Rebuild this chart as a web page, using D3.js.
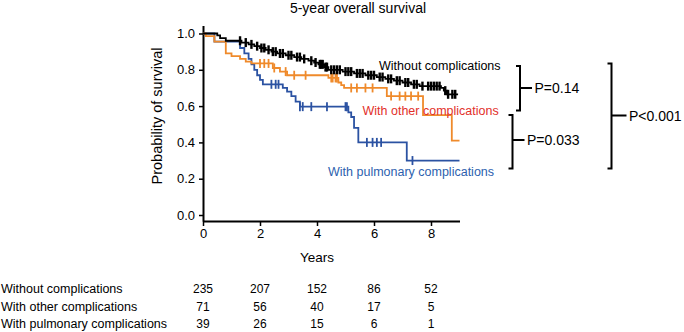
<!DOCTYPE html>
<html>
<head>
<meta charset="utf-8">
<script src="https://cdn.jsdelivr.net/npm/d3@7"></script>
<style>
  body { margin: 0; background: #fff; }
  svg { display: block; font-family: Helvetica, Arial, "Liberation Sans", sans-serif; }
</style>
</head>
<body>
<svg id="chart" width="684" height="332"></svg>
<script>
// groups and at-risk table
const groups = ["Without complications", "With other complications", "With pulmonary complications"];
const riskYears = [0, 2, 4, 6, 8];
const atRiskWithout = [235, 207, 152, 86, 52];
const atRiskOther = [71, 56, 40, 17, 5];
const atRiskPulmonary = [39, 26, 15, 6, 1];

// survival steps: [time in years, survival from that time on]
const stepsWithout = [
  [0, 1.0], [0.5, 0.99], [0.6, 0.975], [0.8, 0.96], [1.35, 0.95], [1.6, 0.94],
  [1.8, 0.93], [2.0, 0.92], [2.2, 0.91], [2.4, 0.9], [2.6, 0.89], [2.9, 0.88],
  [3.2, 0.87], [3.45, 0.86], [3.7, 0.85], [3.9, 0.84], [4.05, 0.83], [4.25, 0.815],
  [4.4, 0.8], [4.9, 0.79], [5.3, 0.78], [5.7, 0.77], [6.1, 0.76], [6.4, 0.75],
  [6.7, 0.74], [7.0, 0.73], [7.3, 0.72], [7.6, 0.71], [8.35, 0.7], [8.45, 0.685],
  [8.55, 0.665]
];
const censorWithout = [
  1.3, 1.5, 1.7, 1.9, 2.05, 2.15, 2.3, 2.45, 2.55, 2.7, 2.8, 3.0, 3.1, 3.3, 3.4,
  3.55, 3.8, 3.95, 4.1, 4.15, 4.2, 4.3, 4.35, 4.5, 4.6, 4.7, 4.8, 5.0, 5.1, 5.2,
  5.4, 5.5, 5.6, 5.8, 5.9, 6.0, 6.2, 6.3, 6.5, 6.6, 6.8, 6.9, 7.1, 7.2, 7.4, 7.5,
  7.7, 7.9, 8.0, 8.1, 8.2, 8.3, 8.5, 8.6, 8.75, 8.85
];
const endWithout = 8.95;

const stepsOther = [
  [0, 1.0], [0.1, 0.985], [0.4, 0.955], [0.8, 0.89], [1.0, 0.875], [1.3, 0.86],
  [1.5, 0.845], [1.7, 0.835], [2.45, 0.81], [2.7, 0.79], [2.95, 0.77], [4.4, 0.755],
  [4.75, 0.73], [4.85, 0.715], [4.95, 0.7], [6.45, 0.655], [7.72, 0.55], [8.73, 0.41]
];
const censorOther = [
  2.0, 2.15, 2.3, 2.5, 2.9, 3.2, 3.6, 4.5, 4.55, 4.65, 4.7, 5.2, 5.4, 5.7, 5.95,
  6.6, 6.9, 7.1, 7.3, 7.55
];
const endOther = 9.0;

const stepsPulmonary = [
  [0, 1.0], [0.4, 0.955], [1.3, 0.92], [1.45, 0.89], [1.6, 0.86], [1.7, 0.83],
  [1.8, 0.8], [1.9, 0.77], [2.0, 0.745], [2.1, 0.72], [2.8, 0.7], [2.95, 0.68],
  [3.1, 0.655], [3.25, 0.625], [3.4, 0.597], [5.1, 0.565], [5.2, 0.54], [5.3, 0.48],
  [5.45, 0.4], [7.15, 0.3]
];
const censorPulmonary = [2.4, 2.55, 2.65, 3.4, 3.5, 3.8, 4.35, 5.0, 5.05, 5.75, 5.95, 6.1, 6.25, 7.35];
const endPulmonary = 9.0;

const yTicks = [0, 0.2, 0.4, 0.6, 0.8, 1.0];
const xTicks = [0, 2, 4, 6, 8];
const pValues = ["P=0.14", "P=0.033", "P<0.001"];

const series = [
  { name: groups[2], steps: stepsPulmonary, censor: censorPulmonary, end: endPulmonary, color: "#2b52a2", mark: 1.8 },
  { name: groups[1], steps: stepsOther, censor: censorOther, end: endOther, color: "#ef8a2b", mark: 1.8 },
  { name: groups[0], steps: stepsWithout, censor: censorWithout, end: endWithout, color: "#000000", mark: 2.4 }
];

const svg = d3.select("#chart");

const x = d3.scaleLinear().domain([0, 9]).range([203, 459.5]);
const y = d3.scaleLinear().domain([-0.033, 1.044]).range([221, 25.5]);

// title
svg.append("text")
  .attr("x", 358).attr("y", 13)
  .attr("text-anchor", "middle")
  .style("font-size", "14px")
  .text("5-year overall survival");

// axes
const yAxis = d3.axisLeft(y).tickValues(yTicks).tickSize(4).tickSizeOuter(0).tickFormat(d3.format(".1f"));
const xAxis = d3.axisBottom(x).tickValues(xTicks).tickSize(5).tickSizeOuter(0).tickFormat(d3.format("d"));

const gy = svg.append("g").attr("transform", "translate(203,0)").call(yAxis);
gy.select(".domain").attr("stroke-width", 2);
gy.selectAll(".tick line").attr("stroke-width", 1.5);
gy.selectAll(".tick text").attr("x", -8).style("font-size", "13px").attr("fill", "#000");

const gx = svg.append("g").attr("transform", "translate(0,221)").call(xAxis);
gx.select(".domain").attr("stroke-width", 2);
gx.selectAll(".tick line").attr("stroke-width", 1.5);
gx.selectAll(".tick text").attr("y", 8).style("font-size", "13px").attr("fill", "#000");
svg.selectAll(".domain").attr("stroke", "#000");

svg.append("text")
  .attr("x", x(4)).attr("y", 262)
  .attr("text-anchor", "middle")
  .style("font-size", "13.5px")
  .text("Years");

svg.append("text")
  .attr("transform", "translate(162,116) rotate(-90)")
  .attr("text-anchor", "middle")
  .style("font-size", "14.5px")
  .text("Probability of survival");

// curves
const line = d3.line()
  .x(function (d) { return x(d[0]); })
  .y(function (d) { return y(d[1]); })
  .curve(d3.curveStepAfter);

const bis = d3.bisector(function (d) { return d[0]; }).right;

series.forEach(function (s) {
  const pts = s.steps.concat([[s.end, s.steps[s.steps.length - 1][1]]]);
  svg.append("path")
    .attr("d", line(pts))
    .attr("fill", "none")
    .attr("stroke", s.color)
    .attr("stroke-width", 1.8);

  svg.append("g")
    .selectAll("line")
    .data(s.censor)
    .enter()
    .append("line")
    .attr("x1", function (d) { return x(d); })
    .attr("x2", function (d) { return x(d); })
    .attr("y1", function (d) { return y(s.steps[bis(s.steps, d) - 1][1]) - 4.5; })
    .attr("y2", function (d) { return y(s.steps[bis(s.steps, d) - 1][1]) + 4.5; })
    .attr("stroke", s.color)
    .attr("stroke-width", s.mark);
});

// curve labels
svg.append("text").attr("x", 379).attr("y", 70)
  .style("font-size", "12.5px").attr("fill", "#000").text(groups[0]);
svg.append("text").attr("x", 362.5).attr("y", 115)
  .style("font-size", "12.5px").attr("fill", "#e2302a").text(groups[1]);
svg.append("text").attr("x", 328).attr("y", 175.5)
  .style("font-size", "12.5px").attr("fill", "#2d5fae").text(groups[2]);

// p-value brackets
const brackets = [
  { x: 520, top: 66, bottom: 110.5, mid: 88, tick: 12, label: pValues[0] },
  { x: 512.5, top: 115, bottom: 168.5, mid: 140, tick: 12, label: pValues[1] },
  { x: 611.5, top: 63.5, bottom: 168.5, mid: 115.5, tick: 15, label: pValues[2] }
];
brackets.forEach(function (b) {
  svg.append("path")
    .attr("d", "M" + (b.x - 4) + "," + b.top + "H" + b.x + "V" + b.bottom + "H" + (b.x - 4) +
      "M" + b.x + "," + b.mid + "H" + (b.x + b.tick))
    .attr("fill", "none")
    .attr("stroke", "#000")
    .attr("stroke-width", 2);
  svg.append("text")
    .attr("x", b.x + b.tick + 2.5).attr("y", b.mid + 5)
    .style("font-size", "14px")
    .text(b.label);
});

// numbers at risk
const riskRows = [atRiskWithout, atRiskOther, atRiskPulmonary];
const rowY = [292.5, 310.5, 328];
riskRows.forEach(function (row, i) {
  svg.append("text")
    .attr("x", 1).attr("y", rowY[i])
    .style("font-size", "12.5px")
    .text(groups[i]);
  svg.append("g")
    .selectAll("text")
    .data(row)
    .enter()
    .append("text")
    .attr("x", function (d, j) { return x(riskYears[j]); })
    .attr("y", rowY[i])
    .attr("text-anchor", "middle")
    .style("font-size", "12px")
    .text(function (d) { return d; });
});
</script>
</body>
</html>
